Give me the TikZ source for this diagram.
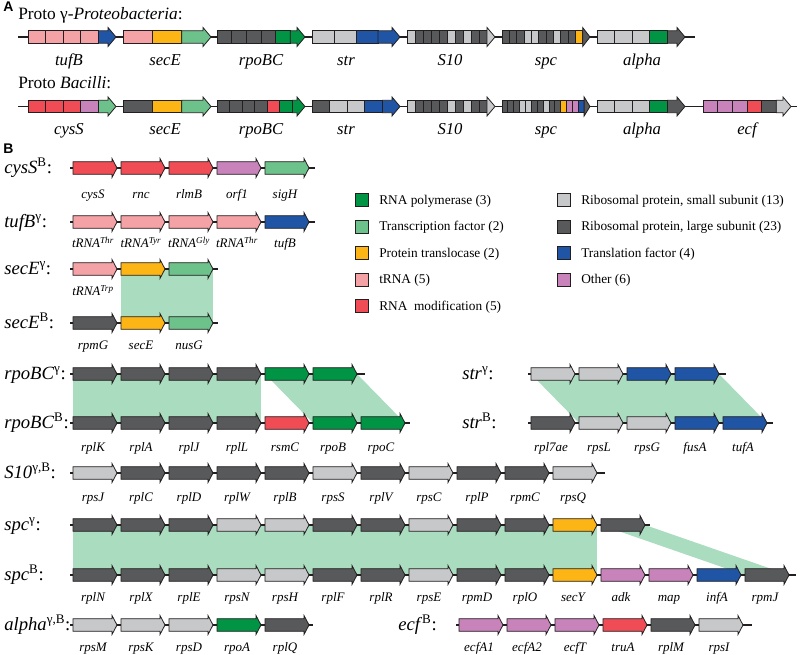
\documentclass[tikz,border=0pt]{standalone}
\usepackage{fontspec}
\setmainfont{Liberation Serif}
\newfontfamily\panelfont{Liberation Sans}
\usepackage{tikz}
\definecolor{rnap}{HTML}{009444}
\definecolor{tfac}{HTML}{6DC28B}
\definecolor{trans}{HTML}{FDB515}
\definecolor{trna}{HTML}{F4A2A6}
\definecolor{rmod}{HTML}{EF4C55}
\definecolor{rpsm}{HTML}{C7C8CA}
\definecolor{rplg}{HTML}{58595B}
\definecolor{tlf}{HTML}{1F55A4}
\definecolor{othr}{HTML}{C883BA}
\definecolor{syn}{HTML}{AADCBF}
\definecolor{edge}{HTML}{231F20}

\tikzset{
  genebox/.style={draw=edge, line width=0.6pt, line join=miter},
  chrom/.style={edge, line width=0.8pt},
  synteny/.style={fill=syn, draw=none},
  glabel/.style={font=\fontsize{9.75}{11}\selectfont\itshape, anchor=base},
  alabel/.style={font=\fontsize{12.5}{14}\selectfont\itshape, anchor=base},
  rowlabel/.style={font=\fontsize{14}{16}\selectfont, anchor=base west, inner sep=0pt},
  legtext/.style={font=\fontsize{10}{12}\selectfont, anchor=base west, inner sep=0pt},
  panel/.style={font=\panelfont\bfseries\fontsize{10.5}{12}\selectfont, anchor=base west, inner sep=0pt},
}

% one gene arrow of panel B: x, y, colour
\newcommand\gene[3]{%
  \draw[genebox, fill=#3] (#1,#2-6.3) -- ++(39,0) -- ++(0,-3.2) -- ++(5,9.5)
    -- ++(-5,9.5) -- ++(0,-3.2) -- ++(-39,0) -- cycle;}
% a row of genes: start x, y, end of line, colours
\newcommand\generow[4]{%
  \draw[chrom] (#1-3,#2) -- (#3,#2);
  \foreach \c [count=\i from 0] in {#4} {\gene{#1+48*\i}{#2}{\c}}}
% gene names under a row: start x, baseline, names
\newcommand\genenames[3]{%
  \foreach \g [count=\i from 0] in {#3} {\node[glabel] at (#1+20+48*\i,#2) {\g};}}
% a cluster of panel A: x, y, number of genes, colours
\newcommand\operon[4]{%
  \foreach \c [count=\i] in {#4} {
    \pgfmathsetmacro\xa{#1+(\i-1)*88/#3}
    \pgfmathsetmacro\xb{#1+\i*88/#3}
    \ifnum\i<#3\relax
      \draw[genebox, fill=\c] (\xa,#2-6.2) rectangle (\xb,#2+6.2);
    \else
      \pgfmathsetmacro\xt{max(\xa,\xb-8)}
      \draw[genebox, fill=\c] (\xa,#2-6.2) -- (\xt,#2-6.2) -- (\xt,#2-9.5) -- (\xb,#2)
        -- (\xt,#2+9.5) -- (\xt,#2+6.2) -- (\xa,#2+6.2) -- cycle;
    \fi
  }}

\begin{document}
\begin{tikzpicture}[x=0.75pt, y=-0.75pt]
  \useasboundingbox (0,0) rectangle (800,655);
  % ---------------- panel A ----------------
  \node[panel] (pa) at (3,12) {A};
  \node[font=\fontsize{13}{15}\selectfont, anchor=base west, inner sep=0pt] (protog) at (18,20)
        {Proto γ-\textit{Proteobacteria}:};
  \node[font=\fontsize{13}{15}\selectfont, anchor=base west, inner sep=0pt] (protob) at (18,89)
        {Proto \textit{Bacilli}:};
  \draw[chrom] (18,37) -- (695,37);
  \draw[chrom] (18,106.5) -- (797,106.5);
  % gamma proteobacteria
  \operon{28}{37}{5}{trna,trna,trna,trna,tlf}
  \operon{123}{37}{3}{trna,trans,tfac}
  \operon{217}{37}{6}{rplg,rplg,rplg,rplg,rnap,rnap}
  \operon{312}{37}{4}{rpsm,rpsm,tlf,tlf}
  \operon{407}{37}{11}{rpsm,rplg,rplg,rplg,rplg,rpsm,rplg,rpsm,rplg,rplg,rpsm}
  \operon{502}{37}{12}{rplg,rplg,rplg,rpsm,rpsm,rplg,rplg,rpsm,rplg,rplg,trans,rplg}
  \operon{597}{37}{5}{rpsm,rpsm,rpsm,rnap,rplg}
  \foreach \nm/\x in {tufB/69, secE/165, rpoBC/261, str/346, S10/450, spc/546, alpha/642}
    \node[alabel] (ag-\nm) at (\x,66) {\nm};
  % bacilli
  \operon{28}{106.5}{5}{rmod,rmod,rmod,othr,tfac}
  \operon{123}{106.5}{3}{rplg,trans,tfac}
  \operon{217}{106.5}{7}{rplg,rplg,rplg,rplg,rmod,rnap,rnap}
  \operon{312}{106.5}{5}{rplg,rpsm,rpsm,tlf,tlf}
  \operon{407}{106.5}{11}{rpsm,rplg,rplg,rplg,rplg,rpsm,rplg,rpsm,rplg,rplg,rpsm}
  \operon{502}{106.5}{15}{rplg,rplg,rplg,rpsm,rpsm,rplg,rplg,rpsm,rplg,rplg,trans,othr,othr,tlf,rplg}
  \operon{597}{106.5}{5}{rpsm,rpsm,rpsm,rnap,rplg}
  \operon{703}{106.5}{6}{othr,othr,othr,rmod,rplg,rpsm}
  \foreach \nm/\x in {cysS/69, secE/165, rpoBC/261, str/346, S10/450, spc/546, alpha/642, ecf/747}
    \node[alabel] (ab-\nm) at (\x,135) {\nm};
  % ---------------- panel B ----------------
  \node[panel] (pb) at (3,154) {B};
  % conserved blocks
  \fill[synteny] (121,269) rectangle (213,323);
  \fill[synteny] (73,374) rectangle (261,423);
  \fill[synteny] (265,374) -- (357,374) -- (405,423) -- (313,423) -- cycle;
  \fill[synteny] (531,374) -- (719,374) -- (767,423) -- (579,423) -- cycle;
  \fill[synteny] (73,525) rectangle (597,575);
  \fill[synteny] (601,525) -- (645,525) -- (789,575) -- (745,575) -- cycle;
  % row names
  \node[rowlabel] (l-cysS) at (4,173.5) {\textit{cysS}\textsuperscript{B}:};
  \node[rowlabel] (l-tufB) at (4,227.5) {\textit{tufB}\textsuperscript{γ}:};
  \node[rowlabel] (l-secEg) at (4,274.5) {\textit{secE}\textsuperscript{γ}:};
  \node[rowlabel] (l-secEb) at (4,328.5) {\textit{secE}\textsuperscript{B}:};
  \node[rowlabel] (l-rpoBCg) at (4,379.5) {\textit{rpoBC}\textsuperscript{γ}:};
  \node[rowlabel] (l-rpoBCb) at (4,428.5) {\textit{rpoBC}\textsuperscript{B}:};
  \node[rowlabel] (l-S10) at (4,478.5) {\textit{S10}\textsuperscript{γ,B}:};
  \node[rowlabel] (l-spcg) at (4,530.5) {\textit{spc}\textsuperscript{γ}:};
  \node[rowlabel] (l-spcb) at (4,580.5) {\textit{spc}\textsuperscript{B}:};
  \node[rowlabel] (l-alpha) at (4,630.5) {\textit{alpha}\textsuperscript{γ,B}:};
  \node[rowlabel] (l-strg) at (462,379.5) {\textit{str}\textsuperscript{γ}:};
  \node[rowlabel] (l-strb) at (462,428.5) {\textit{str}\textsuperscript{B}:};
  \node[rowlabel] (l-ecf) at (398,630.5) {\textit{ecf}\textsuperscript{B}:};
  % gene rows
  \generow{73}{168}{315}{rmod,rmod,rmod,othr,tfac}
  \genenames{73}{199}{cysS,rnc,rlmB,orf1,sigH}
  \generow{73}{222}{315}{trna,trna,trna,trna,tlf}
  \genenames{73}{248}{tRNA\textsuperscript{Thr},tRNA\textsuperscript{Tyr},tRNA\textsuperscript{Gly},tRNA\textsuperscript{Thr},tufB}
  \generow{73}{269}{218}{trna,trans,tfac}
  \genenames{73}{296}{tRNA\textsuperscript{Trp}}
  \generow{73}{323}{218}{rplg,trans,tfac}
  \genenames{73}{350}{rpmG,secE,nusG}
  \generow{73}{374}{365}{rplg,rplg,rplg,rplg,rnap,rnap}
  \generow{73}{423}{410}{rplg,rplg,rplg,rplg,rmod,rnap,rnap}
  \genenames{73}{452}{rplK,rplA,rplJ,rplL,rsmC,rpoB,rpoC}
  \generow{531}{374}{726}{rpsm,rpsm,tlf,tlf}
  \generow{531}{423}{773}{rplg,rpsm,rpsm,tlf,tlf}
  \genenames{531}{452}{rpl7ae,rpsL,rpsG,fusA,tufA}
  \generow{73}{473}{605}{rpsm,rplg,rplg,rplg,rplg,rpsm,rplg,rpsm,rplg,rplg,rpsm}
  \genenames{73}{502}{rpsJ,rplC,rplD,rplW,rplB,rpsS,rplV,rpsC,rplP,rpmC,rpsQ}
  \generow{73}{525}{650}{rplg,rplg,rplg,rpsm,rpsm,rplg,rplg,rpsm,rplg,rplg,trans,rplg}
  \generow{73}{575}{796}{rplg,rplg,rplg,rpsm,rpsm,rplg,rplg,rpsm,rplg,rplg,trans,othr,othr,tlf,rplg}
  \genenames{73}{602}{rplN,rplX,rplE,rpsN,rpsH,rplF,rplR,rpsE,rpmD,rplO,secY,adk,map,infA,rpmJ}
  \generow{73}{625}{313}{rpsm,rpsm,rpsm,rnap,rplg}
  \genenames{73}{652}{rpsM,rpsK,rpsD,rpoA,rplQ}
  \generow{459}{625}{752}{othr,othr,othr,rmod,rplg,rpsm}
  \genenames{459}{652}{ecfA1,ecfA2,ecfT,truA,rplM,rpsI}
  % legend
  \foreach \c/\txt [count=\i from 0] in {rnap/RNA polymerase (3), tfac/Transcription factor (2),
      trans/Protein translocase (2), trna/tRNA (5), rmod/RNA\ \ modification (5)} {
    \draw[genebox, fill=\c] (355,193.5+26.5*\i) rectangle ++(13,13);
    \node[legtext] (leg1-\i) at (379,204.5+26.5*\i) {\txt};
  }
  \foreach \c/\txt [count=\i from 0] in {rpsm/{Ribosomal protein, small subunit (13)},
      rplg/{Ribosomal protein, large subunit (23)}, tlf/Translation factor (4), othr/Other (6)} {
    \draw[genebox, fill=\c] (557,193.5+26.5*\i) rectangle ++(13,13);
    \node[legtext] (leg2-\i) at (581,204.5+26.5*\i) {\txt};
  }
\end{tikzpicture}
\end{document}
